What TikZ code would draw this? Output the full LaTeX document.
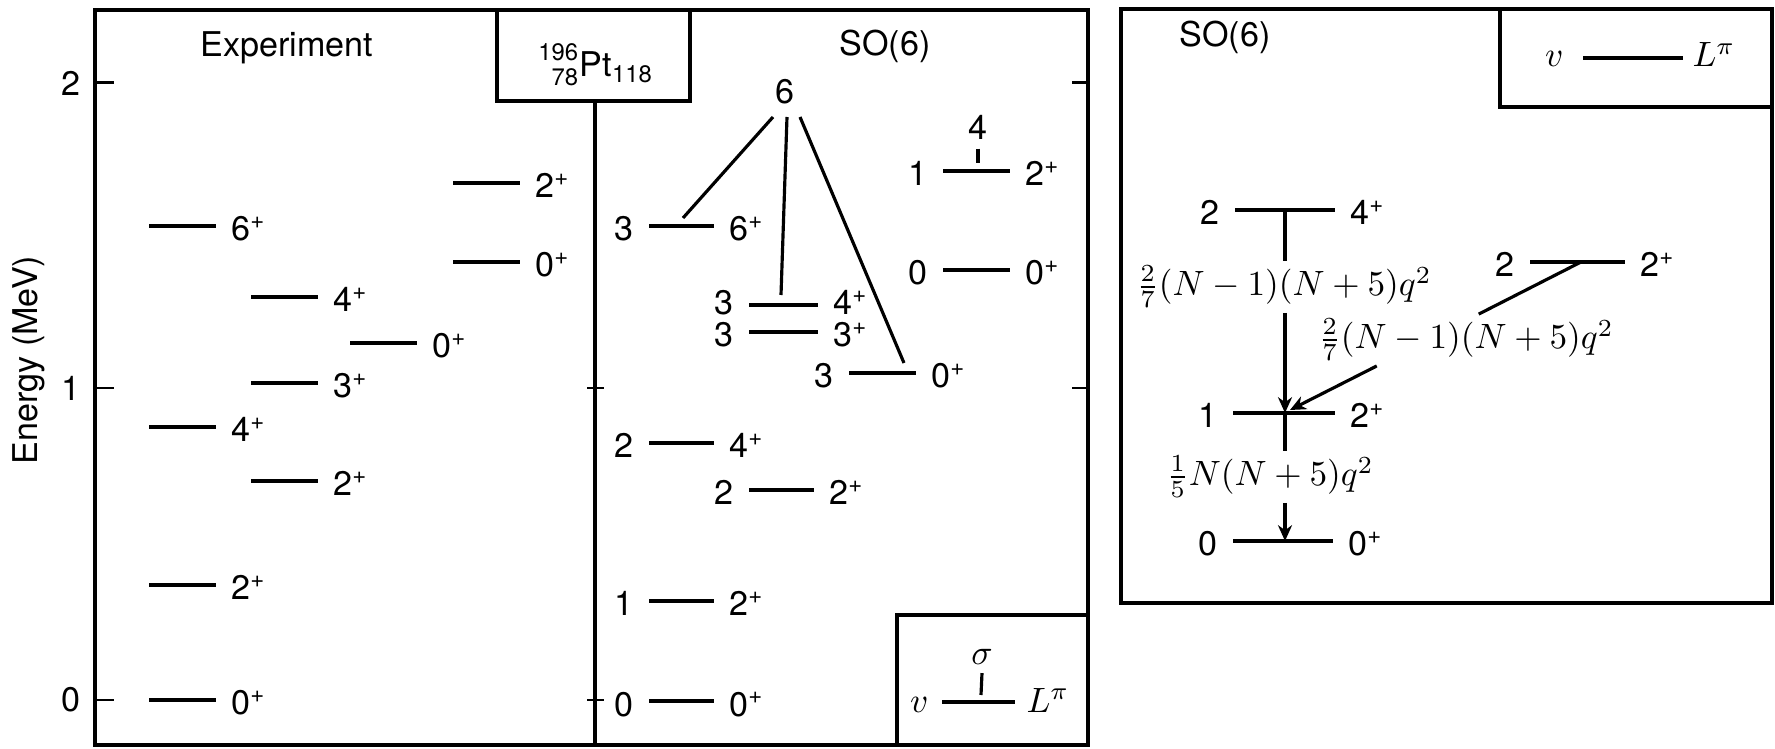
\documentclass[tikz,border=0pt]{standalone}
\usepackage{amsmath}
\usepackage{mathtools}
\usepackage{fontspec}
\setmainfont{TeX Gyre Heros}
\usepackage{tikz}
\usetikzlibrary{arrows.meta,calc}
\newcommand{\lblsize}{\fontsize{9.7}{11.6}\selectfont}
\newcommand{\jp}[1]{#1\textsuperscript{+}}
\tikzset{
    lvlLine/.style={line width=0.9pt},
    lvlLabel/.style={inner sep=0pt, font=\lblsize},
    % Frames and boxes
    panelFrame/.style={line width=0.9pt},
    % Arrows
    trArrow/.style={-{Stealth[length=4.5pt,width=4pt]}, line width=0.9pt}
}
% level: [baseline drop] name, x left, x right, y, J label
\newcommand{\expLevel}[6][15]{%
    \coordinate (#2L) at (#3,#5);
    \coordinate (#2R) at (#4,#5);
    \draw[lvlLine] (#2L) -- (#2R);
    \node[lvlLabel, anchor=base west] (#2J) at ([shift={(14,#1)}]#2R) {#6};
}
% level with sigma label on the left
\newcommand{\symLevel}[7][15]{%
    \expLevel[#1]{#2}{#3}{#4}{#5}{#7}
    \node[lvlLabel, anchor=base east] (#2V) at ([shift={(-14,#1)}]#2L) {#6};
}

\begin{document}
\begin{tikzpicture}[x=0.01cm, y=-0.01cm, font=\lblsize, line width=0.85pt]
\useasboundingbox (0,0) rectangle (1775,749);

% frame of the level scheme
\draw[panelFrame] (95,10) rectangle (1088,745);
\draw[panelFrame] (595,102) -- (595,745);
\foreach \y/\e in {83/2, 388/1, 700/0} {
    \draw (95,\y) -- ++(19,0);
    \node[lvlLabel, anchor=east] at (82,\y) {\e};
}
\foreach \y in {388, 700} \draw (587,\y) -- (604,\y);
\foreach \y in {83, 388} \draw (1072,\y) -- (1088,\y);
\node[lvlLabel, rotate=90] (yLabel) at (29,360) {Energy (MeV)};

\draw[panelFrame, fill=white] (497,10) rectangle (690,101);
\node[lvlLabel, anchor=base] (nucLabel) at (596,77) {$\prescript{\text{196}}{\text{78}}{\text{Pt}}_{\text{118}}$};
\node[lvlLabel, anchor=base] (expHead) at (287,57) {Experiment};
\node[lvlLabel, anchor=base] (soHead) at (885,56) {SO(6)};

% Experiment
\expLevel{ex0}{149}{216}{700}{\jp0}
\expLevel{ex2a}{149}{216}{585}{\jp2}
\expLevel{ex2b}{251}{318}{481}{\jp2}
\expLevel{ex4a}{149}{216}{427}{\jp4}
\expLevel{ex3}{251}{318}{383}{\jp3}
\expLevel{ex0b}{350}{417}{343}{\jp0}
\expLevel{ex4b}{251}{318}{297}{\jp4}
\expLevel{ex0c}{453}{520}{262}{\jp0}
\expLevel{ex6}{149}{216}{226}{\jp6}
\expLevel{ex2c}{453}{520}{183}{\jp2}

% SO(6)
\symLevel{so0}{649}{714}{701}{0}{\jp0}
\symLevel{so1}{649}{714}{601}{1}{\jp2}
\symLevel{so2a}{649}{714}{443}{2}{\jp4}
\symLevel{so2b}{749}{814}{490}{2}{\jp2}
\symLevel{so3a}{849}{916}{373}{3}{\jp0}
\symLevel{so3b}{749}{818}{332}{3}{\jp3}
\symLevel[10]{so3c}{749}{818}{305}{3}{\jp4}
\symLevel{so3d}{649}{714}{226}{3}{\jp6}
\symLevel{so0b}{943}{1010}{270}{0}{\jp0}
\symLevel{so1b}{943}{1010}{171}{1}{\jp2}

\node[lvlLabel] (sig6) at (785,92) {6};
\coordinate (to6) at (683,218);
\coordinate (to4) at (781,295);
\coordinate (to0) at (904,363);
\draw[lvlLine] ([shift={(-12,25)}]sig6.center) -- (to6);
\draw[lvlLine] ([shift={(2,25)}]sig6.center) -- (to4);
\draw[lvlLine] ([shift={(15,25)}]sig6.center) -- (to0);

\node[lvlLabel] (sig4) at (978,127) {4};
\coordinate (tick4) at (978,163);
\draw[lvlLine] ([shift={(0,8)}]sig4.south) -- (tick4);

% legend
\draw[panelFrame, fill=white] (897,615) rectangle (1088,745);
\coordinate (lgL) at (942,702);
\coordinate (lgR) at (1015,702);
\draw[lvlLine] (lgL) -- (lgR);
\node[lvlLabel, anchor=base east] (lgV) at ([shift={(-12,10)}]lgL) {$v$};
\node[lvlLabel, anchor=base west] (lgJ) at ([shift={(10,10)}]lgR) {$L^{\pi}$};
\node[lvlLabel] (lgS) at (982,657) {$\sigma$};
\coordinate (lgT) at (981,695);
\draw[lvlLine] ([shift={(0,7)}]lgS.south) -- (lgT);

% right panel: E2 transitions
\draw[panelFrame] (1121,9) rectangle (1772,603);
\draw[panelFrame] (1500,9) rectangle (1772,107);
\node[lvlLabel, anchor=base] (soHeadB) at (1225,47) {SO(6)};
\coordinate (lg2L) at (1583,58);
\coordinate (lg2R) at (1683,58);
\draw[lvlLine] (lg2L) -- (lg2R);
\node[lvlLabel, anchor=base east] (lg2V) at ([shift={(-18,9)}]lg2L) {$v$};
\node[lvlLabel, anchor=base west] (lg2J) at ([shift={(8,9)}]lg2R) {$L^{\pi}$};

\symLevel{rt4}{1235}{1335}{210}{2}{\jp4}
\symLevel{rt2}{1530}{1625}{262}{2}{\jp2}
\symLevel{rt1}{1233}{1335}{413}{1}{\jp2}
\symLevel{rt0}{1233}{1333}{541}{0}{\jp0}

\coordinate (t4) at (1285,210);
\coordinate (t1) at (1285,413);
\coordinate (t0) at (1285,541);
\node[lvlLabel, inner sep=1pt] (qa) at (1284,287) {$\frac{2}{7}(N-1)(N+5)q^2$};
\node[lvlLabel, inner sep=1pt] (qb) at (1466,340) {$\frac{2}{7}(N-1)(N+5)q^2$};
\node[lvlLabel, inner sep=1pt] (qc) at (1270,477) {$\frac{1}{5}N(N+5)q^2$};

\draw[lvlLine] (t4) -- (t4 |- qa.north);
\draw[trArrow] (t4 |- qa.south) -- (t1);
\draw[lvlLine] (t1) -- (t1 |- qc.north);
\draw[trArrow] (t1 |- qc.south) -- (t0);

\coordinate (d2) at (1581,262);
\coordinate (d1) at (1290,410);
\draw[lvlLine] (d2) -- (intersection of d2--d1 and qb.north west--qb.north east);
\draw[trArrow] (intersection of d2--d1 and qb.south west--qb.south east) -- (d1);
\end{tikzpicture}
\end{document}
